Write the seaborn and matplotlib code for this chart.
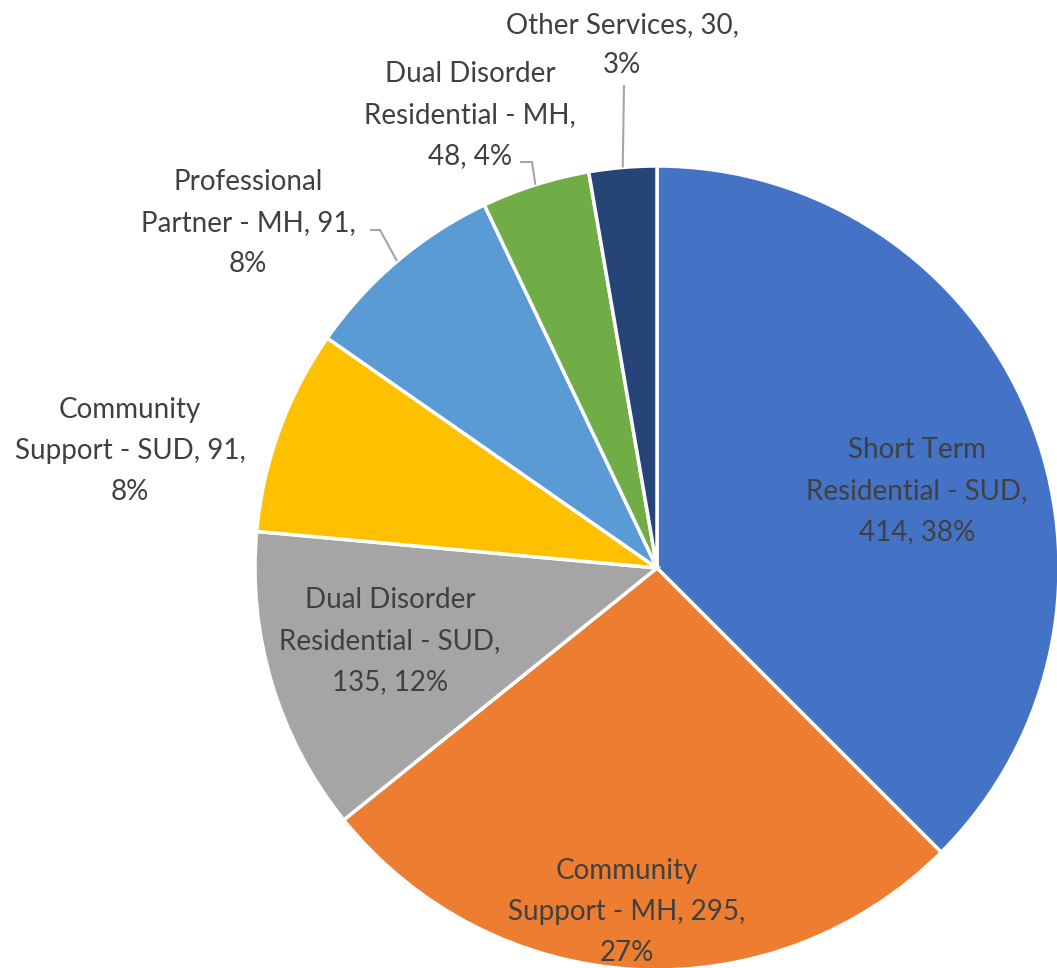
import matplotlib
matplotlib.use("Agg")
import matplotlib.pyplot as plt
import numpy as np
import seaborn as sns

# Service categories and client counts
categories = [
    "Short Term\nResidential - SUD",
    "Community\nSupport - MH",
    "Dual Disorder\nResidential - SUD",
    "Community\nSupport - SUD",
    "Professional\nPartner - MH",
    "Dual Disorder\nResidential - MH",
    "Other Services",
]
counts = [414, 295, 135, 91, 91, 48, 30]
# separator placed after the name and after the count in each data label
sep_after_name = [",\n", ", ", ",\n", ", ", ", ", ",\n", ", "]
sep_after_count = [", ", ",\n", ", ", ",\n", ",\n", ", ", ",\n"]
colors = ["#4472C4", "#ED7D31", "#A5A5A5", "#FFC000", "#5B9BD5", "#70AD47", "#264478"]

sns.set_theme(style="white")
plt.rcParams["font.family"] = ["Lato", "DejaVu Sans"]

W, H = 1057, 968
CX, CY, R = 657, 568, 402

fig = plt.figure(figsize=(W / 100, H / 100), dpi=100)
ax = fig.add_axes([0, 0, 1, 1])


def px(x, y):
    """Convert image pixel position to pie data coordinates."""
    return (x - CX) / R, (CY - y) / R


wedges, _ = ax.pie(
    counts, colors=colors, startangle=90, counterclock=False,
    radius=1.0, center=(0, 0),
    wedgeprops=dict(edgecolor="white", linewidth=2.5),
)
ax.set_aspect("equal")
ax.set_xlim(-CX / R, (W - CX) / R)
ax.set_ylim(-(H - CY) / R, CY / R)
ax.axis("off")

total = sum(counts)
labels = []
for name, v, s1, s2 in zip(categories, counts, sep_after_name, sep_after_count):
    pct = int(round(100 * v / total))
    labels.append(f"{name}{s1}{v}{s2}{pct}%")

# label centers (pixel positions) and optional leader elbows
label_pos = [(917, 491), (627, 912), (390, 641), (130, 451),
             (248, 223), (470, 115), (622, 45)]
elbows = {
    4: [(370, 230), (380, 230)],
    5: [(520, 162), (532, 162)],
    6: [(624, 85), (624, 85)],
}

txt_color = "#404040"
for i, (lab, (lx, ly)) in enumerate(zip(labels, label_pos)):
    ax.text(*px(lx, ly), lab, ha="center", va="center", fontsize=20,
            color=txt_color, linespacing=1.7)

# leader lines from wedge edge midpoints to outside labels
for i, pts in elbows.items():
    w = wedges[i]
    mid = np.deg2rad((w.theta1 + w.theta2) / 2)
    ex, ey = np.cos(mid), np.sin(mid)
    p = [px(*pts[0]), px(*pts[1]), (ex, ey)]
    ax.plot([q[0] for q in p], [q[1] for q in p], color="#A6A6A6", lw=1.5,
            solid_capstyle="butt")

fig.savefig("out.png", dpi=100)
